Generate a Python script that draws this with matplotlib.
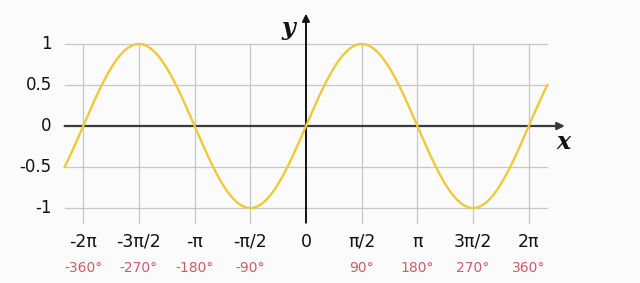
import matplotlib.pyplot as plt
import numpy as np

# tick positions (multiples of pi/2) and their labels
tick_pos = [-2, -1.5, -1, -0.5, 0, 0.5, 1, 1.5, 2]
tick_rad = ['-2π', '-3π/2', '-π', '-π/2', '0', 'π/2', 'π', '3π/2', '2π']
tick_deg = ['-360°', '-270°', '-180°', '-90°', '', '90°', '180°', '270°', '360°']
y_ticks = [1, 0.5, 0, -0.5, -1]
y_labels = ['1', '0.5', '0', '-0.5', '-1']

# curve range
x_start = -2 * np.pi - np.pi / 6
x_end = 2 * np.pi + np.pi / 6

fig = plt.figure(figsize=(6.4, 2.83), dpi=100, facecolor='#fbfbfc')
ax = fig.add_axes([0, 0, 1, 1])
ax.set_facecolor('#fbfbfc')
ax.set_xlim(-8.63, 9.42)
ax.set_ylim(-1.915, 1.537)
ax.axis('off')

grid_c = '#c6c6ca'
# horizontal grid lines
for yv in y_ticks:
    if yv != 0:
        ax.plot([x_start, x_end], [yv, yv], color=grid_c, lw=0.9, zorder=1)
# vertical grid lines
for p in tick_pos:
    if p != 0:
        ax.plot([p * np.pi, p * np.pi], [1, -1.18], color=grid_c, lw=0.9, zorder=1)

# axes with arrows
ax.annotate('', xy=(7.3, 0), xytext=(x_start, 0),
            arrowprops=dict(arrowstyle='-|>', color='#3a3a3a', lw=1.6,
                            mutation_scale=11, shrinkA=0, shrinkB=0), zorder=2)
ax.annotate('', xy=(0, 1.37), xytext=(0, -1.18),
            arrowprops=dict(arrowstyle='-|>', color='#111111', lw=1.4,
                            mutation_scale=11, shrinkA=0, shrinkB=0), zorder=2)

# sine curve
x = np.linspace(x_start, x_end, 600)
ax.plot(x, np.sin(x), color='#eec93a', lw=1.7, zorder=3)

# axis names
ax.text(7.25, -0.2, 'x', fontsize=17, fontweight='bold', fontstyle='italic',
        family='DejaVu Serif', ha='center', va='center', color='#111111')
ax.text(-0.5, 1.2, 'y', fontsize=17, fontweight='bold', fontstyle='italic',
        family='DejaVu Serif', ha='center', va='center', color='#111111')

# y tick labels
for yv, lab in zip(y_ticks, y_labels):
    ax.text(-7.17, yv, lab, fontsize=12, ha='right', va='center', color='#111111')

# x tick labels
for p, r, d in zip(tick_pos, tick_rad, tick_deg):
    ax.text(p * np.pi, -1.41, r, fontsize=12.5, ha='center', va='center', color='#111111')
    ax.text(p * np.pi, -1.73, d, fontsize=10, ha='center', va='center', color='#cf5a68')

plt.savefig('out.png', dpi=100, facecolor=fig.get_facecolor())
